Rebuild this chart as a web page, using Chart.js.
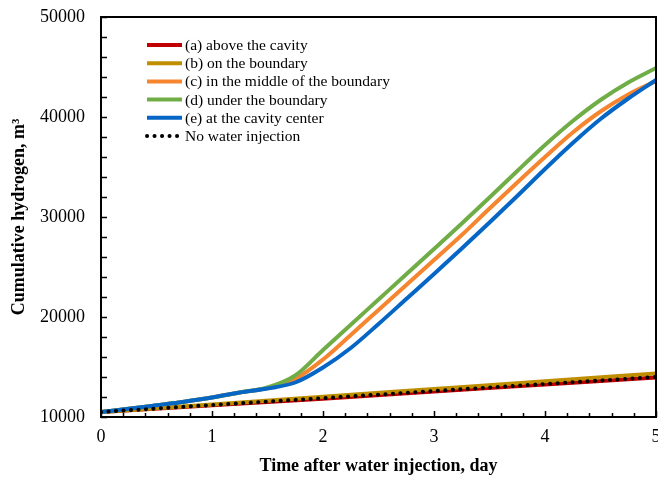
<!DOCTYPE html>
<html>
<head>
<meta charset="utf-8">
<script src="https://cdn.jsdelivr.net/npm/chart.js@4.4.1/dist/chart.umd.min.js"></script>
<style>
  html, body { margin: 0; padding: 0; background: #fff; }
  #wrap { width: 658px; height: 477px; }
</style>
</head>
<body>
<div id="wrap"><canvas id="chart"></canvas></div>
<script>
// time after water injection (day)
var days = [0, 0.25, 0.5, 0.75, 1, 1.25, 1.5, 1.75, 2, 2.25, 2.5, 2.75, 3, 3.25, 3.5, 3.75, 4, 4.25, 4.5, 4.75, 5];
var daysCoarse = [0, 1, 2, 3, 4, 5];

// cumulative hydrogen (m3) per injection location
var aboveCavity    = [10500, 11170, 11830, 12550, 13250, 13950];
var onBoundary     = [10500, 11250, 12020, 12800, 13580, 14350];
var middleBoundary = [10500, 10820, 11170, 11530, 11950, 12450, 12900, 13800, 15750, 18200, 20700, 23200, 25700, 28200, 30850, 33450, 36000, 38450, 40550, 42250, 43600];
var underBoundary  = [10500, 10820, 11170, 11530, 11950, 12450, 12950, 14150, 16700, 19230, 21750, 24270, 26800, 29350, 31950, 34600, 37200, 39600, 41700, 43450, 44900];
var cavityCenter   = [10500, 10820, 11170, 11530, 11950, 12450, 12850, 13450, 14950, 16900, 19300, 21800, 24300, 26850, 29450, 32100, 34800, 37400, 39800, 41850, 43700];
var noInjection    = [10500, 11200, 11880, 12600, 13300, 14000];

var seriesNames = [
  "(a) above the cavity",
  "(b) on the boundary",
  "(c) in the middle of the boundary",
  "(d) under the boundary",
  "(e) at the cavity center",
  "No water injection"
];

var xTicks = [0, 1, 2, 3, 4, 5];
var yTicks = [10000, 20000, 30000, 40000, 50000];

function pts(xs, ys) {
  return xs.map(function (x, i) { return { x: x, y: ys[i] }; });
}

var serif = "'Liberation Serif', 'Times New Roman', serif";

function lineSet(label, xs, ys, color, order) {
  return {
    label: label,
    data: pts(xs, ys),
    borderColor: color,
    backgroundColor: color,
    borderWidth: 4,
    pointRadius: 0,
    cubicInterpolationMode: 'monotone',
    order: order
  };
}

var datasets = [
  lineSet(seriesNames[0], daysCoarse, aboveCavity, '#C00000', 5),
  lineSet(seriesNames[1], daysCoarse, onBoundary, '#BF8F00', 4),
  lineSet(seriesNames[2], days, middleBoundary, '#F5862F', 3),
  lineSet(seriesNames[3], days, underBoundary, '#70AD47', 2),
  lineSet(seriesNames[4], days, cavityCenter, '#0566C6', 1),
  {
    label: seriesNames[5],
    data: pts(daysCoarse, noInjection),
    borderColor: '#000',
    backgroundColor: '#000',
    borderWidth: 4,
    borderDash: [0.1, 7.4],
    borderCapStyle: 'round',
    pointRadius: 0,
    order: 0
  }
];

// box around plot area + inward tick marks (major and minor)
var frame = {
  id: 'frame',
  afterDatasetsDraw: function (chart) {
    var ctx = chart.ctx, a = chart.chartArea;
    var xs = chart.scales.x, ys = chart.scales.y;
    ctx.save();
    ctx.strokeStyle = '#000';
    ctx.lineWidth = 1.5;
    ctx.beginPath();
    var v, p;
    for (v = 0; v <= 25; v++) {
      p = Math.round(xs.getPixelForValue(v / 5)) + 0.5;
      ctx.moveTo(p, a.bottom);
      ctx.lineTo(p, a.bottom - (v % 5 === 0 ? 6 : 4));
    }
    for (v = 10000; v <= 50000; v += 2000) {
      p = Math.round(ys.getPixelForValue(v)) + 0.5;
      ctx.moveTo(a.left, p);
      ctx.lineTo(a.left + 6, p);
    }
    ctx.stroke();
    ctx.lineWidth = 2;
    ctx.strokeRect(a.left, a.top, a.right - a.left, a.bottom - a.top);
    ctx.restore();
  }
};

// legend drawn inside the plot area, top-left
var insideLegend = {
  id: 'insideLegend',
  afterDraw: function (chart) {
    var ctx = chart.ctx;
    var x0 = 147, x1 = 182, y0 = 45, dy = 18.2;
    ctx.save();
    ctx.font = '15.5px ' + serif;
    ctx.textBaseline = 'middle';
    ctx.fillStyle = '#000';
    chart.data.datasets.forEach(function (ds, i) {
      var y = y0 + i * dy;
      ctx.strokeStyle = ds.borderColor;
      ctx.lineWidth = ds.borderWidth;
      ctx.lineCap = ds.borderCapStyle || 'butt';
      ctx.setLineDash(ds.borderDash || []);
      ctx.beginPath();
      ctx.moveTo(x0, y);
      ctx.lineTo(x1, y);
      ctx.stroke();
      ctx.setLineDash([]);
      ctx.fillText(ds.label, x1 + 3, y + 1);
    });
    ctx.restore();
  }
};

function plain(v) { return String(v); }

new Chart('chart', {
  type: 'line',
  data: { datasets: datasets },
  options: {
    responsive: true,
    maintainAspectRatio: false,
    animation: false,
    layout: { padding: { top: 17, right: 2, left: 0, bottom: 0 } },
    plugins: {
      legend: { display: false },
      tooltip: { enabled: false }
    },
    scales: {
      x: {
        type: 'linear',
        min: 0,
        max: 5,
        afterBuildTicks: function (s) { s.ticks = xTicks.map(function (v) { return { value: v }; }); },
        afterFit: function (s) { s.height = 60; s.paddingLeft = 0; s.paddingRight = 0; },
        grid: { display: false, drawTicks: false },
        border: { display: false },
        ticks: { color: '#000', padding: 9, callback: plain, font: { family: serif, size: 18 } },
        title: {
          display: true,
          text: 'Time after water injection, day',
          color: '#000',
          padding: { top: 2, bottom: 0 },
          font: { family: serif, size: 18, weight: 'bold' }
        }
      },
      y: {
        min: 10000,
        max: 50000,
        afterBuildTicks: function (s) { s.ticks = yTicks.map(function (v) { return { value: v }; }); },
        afterFit: function (s) { s.width = 101; s.paddingTop = 0; s.paddingBottom = 0; },
        grid: { display: false, drawTicks: false },
        border: { display: false },
        ticks: { color: '#000', padding: 16, callback: plain, font: { family: serif, size: 18 } },
        title: {
          display: true,
          text: 'Cumulative hydrogen, m³',
          color: '#000',
          padding: { top: 9, bottom: 0 },
          font: { family: serif, size: 18, weight: 'bold' }
        }
      }
    }
  },
  plugins: [frame, insideLegend]
});
</script>
</body>
</html>
